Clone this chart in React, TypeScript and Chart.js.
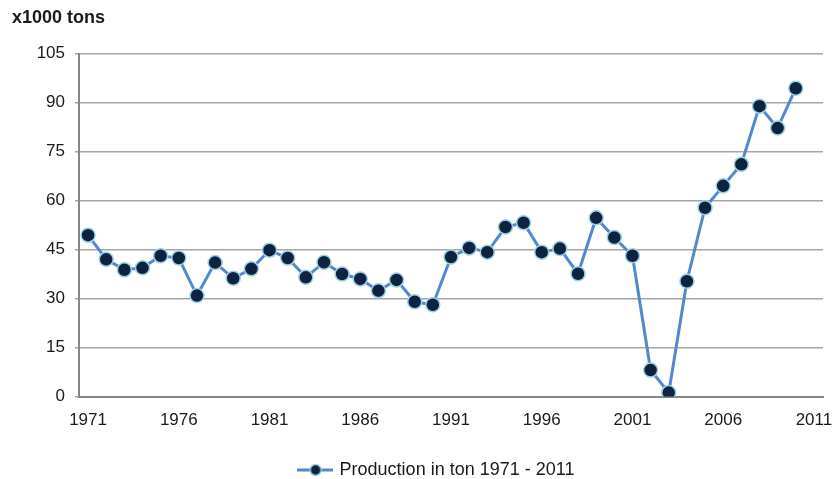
import React, { useEffect, useRef } from 'react';
import { Chart, registerables } from 'chart.js';

Chart.register(...registerables);

const years = [
  '1971', '1972', '1973', '1974', '1975', '1976', '1977', '1978', '1979', '1980',
  '1981', '1982', '1983', '1984', '1985', '1986', '1987', '1988', '1989', '1990',
  '1991', '1992', '1993', '1994', '1995', '1996', '1997', '1998', '1999', '2000',
  '2001', '2002', '2003', '2004', '2005', '2006', '2007', '2008', '2009', '2010',
  '2011',
];

const production = [
  49.4, 42.0, 38.8, 39.4, 43.1, 42.4, 30.9, 41.0, 36.2, 39.1,
  44.8, 42.4, 36.5, 41.1, 37.5, 36.0, 32.4, 35.7, 29.0, 28.1,
  42.7, 45.5, 44.2, 51.9, 53.2, 44.2, 45.3, 37.6, 54.7, 48.7,
  43.1, 8.1, 1.2, 35.3, 57.8, 64.5, 71.1, 88.9, 82.2, 94.4,
];

const seriesLabel = 'Production in ton 1971 - 2011';
const unitTitle = 'x1000 tons';
const yMin = 0;
const yMax = 105;
const yStep = 15;
const xLabelEvery = 5;

const LINE_COLOR = '#5288cc';
const POINT_FILL = '#0d2340';
const POINT_BORDER = '#9fd0e3';
const GRID_COLOR = '#a6a6a6';
const AXIS_COLOR = '#868686';
const TEXT_COLOR = '#1a1a1a';
const FONT = "'Liberation Sans', Arial, sans-serif";

function makeLegendIcon(): HTMLCanvasElement {
  const c = document.createElement('canvas');
  c.width = 36;
  c.height = 16;
  const ctx = c.getContext('2d')!;
  ctx.strokeStyle = LINE_COLOR;
  ctx.lineWidth = 3;
  ctx.beginPath();
  ctx.moveTo(0, 8);
  ctx.lineTo(36, 8);
  ctx.stroke();
  ctx.beginPath();
  ctx.arc(19, 8, 5.5, 0, Math.PI * 2);
  ctx.fillStyle = POINT_FILL;
  ctx.fill();
  ctx.lineWidth = 1.5;
  ctx.strokeStyle = POINT_BORDER;
  ctx.stroke();
  return c;
}

const legendShift = {
  id: 'legendShift',
  afterLayout(chart: any) {
    const lg = chart.legend;
    if (lg) {
      lg.left += 19;
      lg.right += 19;
      lg.top += 10;
      lg.bottom += 10;
    }
  },
};

export default function App() {
  const ref = useRef<HTMLCanvasElement | null>(null);

  useEffect(() => {
    if (!ref.current) return;
    const icon = makeLegendIcon();
    const chart = new Chart(ref.current, {
      type: 'line',
      data: {
        labels: years,
        datasets: [
          {
            label: seriesLabel,
            data: production,
            borderColor: LINE_COLOR,
            borderWidth: 3,
            backgroundColor: POINT_FILL,
            pointBackgroundColor: POINT_FILL,
            pointBorderColor: POINT_BORDER,
            pointBorderWidth: 1.5,
            pointRadius: 7,
            pointStyle: 'circle',
            tension: 0,
            fill: false,
          },
        ],
      },
      options: {
        animation: false,
        responsive: true,
        maintainAspectRatio: false,
        layout: { padding: { left: 12, right: 9, top: 0, bottom: 0 } },
        scales: {
          x: {
            type: 'category',
            offset: true,
            grid: { display: false, drawTicks: false },
            border: { display: true, color: AXIS_COLOR, width: 2 },
            ticks: {
              autoSkip: false,
              maxRotation: 0,
              minRotation: 0,
              padding: 14,
              color: TEXT_COLOR,
              font: { family: FONT, size: 17 },
              callback: (_v: any, i: number) => (i % xLabelEvery === 0 ? years[i] : ''),
            },
            afterFit: (s: any) => {
              s.height = 48.5;
              s.paddingLeft = 0;
              s.paddingRight = 0;
            },
          },
          y: {
            min: yMin,
            max: yMax,
            grid: { color: GRID_COLOR, lineWidth: 1.5, tickLength: 4 },
            border: { display: true, color: AXIS_COLOR, width: 2 },
            ticks: {
              stepSize: yStep,
              padding: 10,
              color: TEXT_COLOR,
              font: { family: FONT, size: 17 },
            },
            afterFit: (s: any) => { s.width = 67; },
          },
        },
        plugins: {
          title: {
            display: true,
            text: unitTitle,
            align: 'start',
            color: TEXT_COLOR,
            font: { family: FONT, size: 18, weight: 'bold' },
            padding: { top: 7, bottom: 25 },
          },
          legend: {
            position: 'bottom',
            labels: {
              usePointStyle: true,
              pointStyleWidth: 32,
              color: TEXT_COLOR,
              font: { family: FONT, size: 18 },
              padding: 6,
              generateLabels: () => [
                {
                  text: seriesLabel,
                  pointStyle: icon,
                  fillStyle: POINT_FILL,
                  strokeStyle: LINE_COLOR,
                  lineWidth: 0,
                  hidden: false,
                  datasetIndex: 0,
                  fontColor: TEXT_COLOR,
                } as any,
              ],
            },
          },
          tooltip: { enabled: false },
        },
      },
      plugins: [legendShift],
    });
    return () => chart.destroy();
  }, []);

  return (
    <div style={{ position: 'fixed', left: 0, top: 0, width: 832, height: 479, background: '#fff' }}>
      <canvas ref={ref} />
    </div>
  );
}
